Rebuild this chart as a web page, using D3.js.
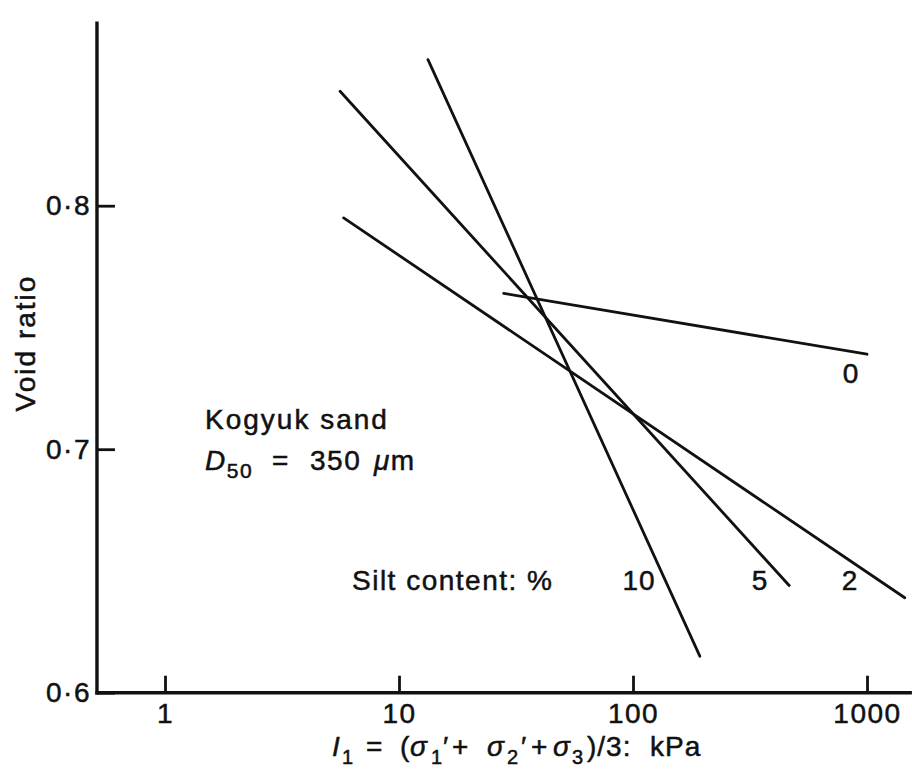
<!DOCTYPE html>
<html>
<head>
<meta charset="utf-8">
<script src="https://cdn.jsdelivr.net/npm/d3@7.9.0/dist/d3.min.js"></script>
<style>
  html, body { margin: 0; padding: 0; background: #fff; }
  svg { display: block; font-family: "Liberation Sans", Arial, Helvetica, sans-serif; }
  .lbl { font-size: 28px; fill: #111; stroke: #111; stroke-width: 0.5px; letter-spacing: 1.5px; }
</style>
</head>
<body>
<div id="chart"></div>
<script>
// Compression lines for Kogyuk sand, one per silt content
const siltContent = ['0', '2', '5', '10'];
const stressStart = [28, 5.8, 5.6, 13.3];      // kPa, left end of each line
const stressEnd   = [1000, 1450, 465, 193];    // kPa, right end of each line
const voidStart   = [0.764, 0.795, 0.847, 0.860];
const voidEnd     = [0.739, 0.639, 0.644, 0.615];

const xTicks = [1, 10, 100, 1000];
const yTicks = [0.6, 0.7, 0.8];
const xAxisExtent = [0.512, 1530];
const yAxisExtent = [0.6, 0.875];

const W = 912, H = 775;

const svg = d3.select('#chart').append('svg')
  .attr('width', W).attr('height', H);

const x = d3.scaleLog().domain([1, 1000]).range([165, 867]);
const y = d3.scaleLinear().domain([0.6, 0.8]).range([692.7, 205.7]);

const ink = '#111';

// axes, ticks pointing inward as on the plate
const xAxis = svg.append('g')
  .attr('transform', `translate(0,${y(0.6)})`)
  .call(d3.axisBottom(x).tickValues(xTicks).tickSize(-17).tickPadding(10)
    .tickFormat(d3.format('d')));
const yAxis = svg.append('g')
  .attr('transform', `translate(${x(xAxisExtent[0])},0)`)
  .call(d3.axisLeft(y).tickValues(yTicks).tickSize(-18).tickPadding(6)
    .tickFormat(d => d3.format('.1f')(d).replace('.', '·')));

[xAxis, yAxis].forEach(g => {
  g.select('.domain').remove();
  g.selectAll('.tick line').attr('stroke', ink).attr('stroke-width', 2.8);
  g.selectAll('.tick text')
    .attr('class', 'lbl')
    .style('font-family', '"Liberation Sans", Arial, sans-serif')
    .style('letter-spacing', '1.5px');
});

// axis lines
svg.append('line')
  .attr('x1', x(xAxisExtent[0])).attr('x2', x(xAxisExtent[1]))
  .attr('y1', y(0.6)).attr('y2', y(0.6))
  .attr('stroke', ink).attr('stroke-width', 3.4).attr('stroke-linecap', 'square');
svg.append('line')
  .attr('x1', x(xAxisExtent[0])).attr('x2', x(xAxisExtent[0]))
  .attr('y1', y(yAxisExtent[0])).attr('y2', y(yAxisExtent[1]))
  .attr('stroke', ink).attr('stroke-width', 3.4).attr('stroke-linecap', 'square');

// data lines
const line = d3.line().x(d => x(d[0])).y(d => y(d[1]));
const series = siltContent.map((s, i) => ({
  silt: s,
  pts: [[stressStart[i], voidStart[i]], [stressEnd[i], voidEnd[i]]]
}));
svg.append('g').selectAll('path').data(series).join('path')
  .attr('d', d => line(d.pts))
  .attr('fill', 'none')
  .attr('stroke', ink)
  .attr('stroke-width', 2.8)
  .attr('stroke-linecap', 'round');

// line labels
const labelPos = { '0': [851, 383], '2': [850, 590], '5': [760, 590], '10': [639, 590] };
svg.append('g').selectAll('text').data(series).join('text')
  .attr('class', 'lbl')
  .attr('x', d => labelPos[d.silt][0])
  .attr('y', d => labelPos[d.silt][1])
  .attr('text-anchor', 'middle')
  .style('letter-spacing', '1px')
  .text(d => d.silt);

svg.append('text').attr('class', 'lbl')
  .attr('x', 352).attr('y', 590)
  .text('Silt content: %');

// annotation
svg.append('text').attr('class', 'lbl')
  .attr('x', 205).attr('y', 429)
  .style('letter-spacing', '2px')
  .text('Kogyuk sand');

const d50 = svg.append('text').attr('class', 'lbl').attr('x', 205).attr('y', 470);
d50.append('tspan').style('font-style', 'italic').text('D');
d50.append('tspan').attr('dy', 8).style('font-size', '21px').text('50');
d50.append('tspan').attr('dy', -8).attr('x', 272).text('=');
d50.append('tspan').attr('x', 310).text('350');
d50.append('tspan').attr('x', 374).style('font-style', 'italic').text('μ');
d50.append('tspan').text('m');

// axis titles
svg.append('text').attr('class', 'lbl')
  .attr('transform', `translate(35,343) rotate(-90)`)
  .attr('text-anchor', 'middle')
  .style('letter-spacing', '2px')
  .text('Void ratio');

const xt = svg.append('text').attr('class', 'lbl').attr('y', 756)
  .style('letter-spacing', '1px');
const part = (px, txt, opt = {}) => {
  const t = xt.append('tspan').attr('x', px).text(txt);
  if (opt.italic) t.style('font-style', 'italic');
  if (opt.sub) t.attr('y', 764).style('font-size', '20px');
  else t.attr('y', 756);
  return t;
};
part(332, 'I', { italic: true });
part(342, '1', { sub: true });
part(366, '=');
part(400, '(');
part(410, 'σ', { italic: true });
part(431, '1', { sub: true });
part(443, '′');
part(452, '+');
part(487, 'σ', { italic: true });
part(507, '2', { sub: true });
part(521, '′');
part(531, '+');
part(553, 'σ', { italic: true });
part(572, '3', { sub: true });
part(587, ')/3:');
part(650, 'kPa');
</script>
</body>
</html>
